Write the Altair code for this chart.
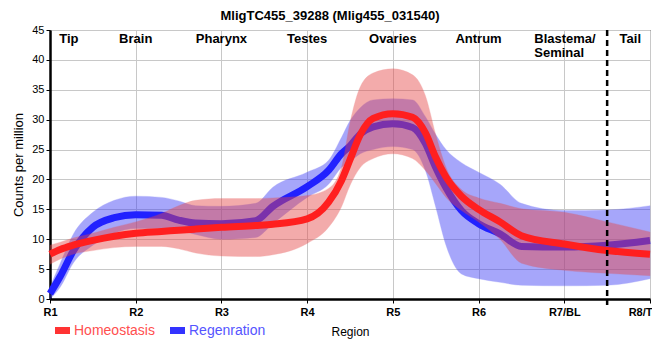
import altair as alt
import pandas as pd

# ---- data ----
xs = [1, 1.12, 1.27, 1.5, 1.75, 2, 2.3, 2.5, 2.7, 3, 3.4, 3.6, 4, 4.25, 4.4, 4.5,
      4.62, 4.77, 5, 5.23, 5.38, 5.5, 5.62, 5.8, 6, 6.25, 6.5, 7, 7.5, 8]

red_mean = [7.5, 8.3, 9.0, 9.8, 10.5, 11.0, 11.3, 11.5, 11.7, 12.0, 12.3, 12.5, 13.4, 16.2, 19.8, 23.3,
            27.5, 30.2, 31.0, 30.4, 27.8, 23.7, 20.4, 17.2, 15.0, 12.9, 10.6, 9.2, 8.1, 7.5]
red_lo = [5.8, 6.7, 7.5, 8.1, 8.6, 8.8, 8.8, 8.4, 7.7, 7.2, 7.1, 7.4, 9.3, 12.0, 15.4, 19.0,
          22.0, 23.5, 24.3, 23.5, 21.5, 19.3, 17.0, 14.8, 12.9, 10.0, 6.0, 4.8, 4.3, 3.9]
red_hi = [9.0, 9.5, 10.2, 11.0, 12.0, 12.9, 14.3, 15.6, 16.5, 16.8, 16.8, 16.9, 17.3, 18.5, 22.0, 29.5,
          35.5, 37.8, 38.5, 37.5, 34.0, 27.5, 22.0, 18.3, 16.9, 16.0, 15.1, 14.5, 12.9, 11.2]

blue_mean = [0.9, 3.8, 8.0, 12.0, 13.6, 14.1, 14.0, 13.2, 12.7, 12.6, 13.1, 15.5, 18.8, 21.5, 24.3, 25.6,
             27.6, 28.8, 29.3, 28.7, 26.0, 22.0, 18.6, 14.8, 12.6, 10.9, 8.8, 8.7, 9.0, 9.8]
blue_lo = [0.0, 2.0, 6.0, 9.0, 11.0, 11.8, 11.8, 11.5, 10.8, 10.0, 10.3, 12.6, 17.0, 19.2, 22.0, 23.0,
           24.3, 25.0, 25.5, 25.0, 21.5, 15.4, 9.0, 4.2, 3.4, 2.8, 2.3, 2.2, 2.3, 3.4]
blue_hi = [2.0, 6.0, 10.8, 14.5, 16.5, 17.2, 17.0, 16.4, 15.6, 15.5, 16.0, 18.7, 21.2, 23.2, 27.0, 29.8,
           32.0, 33.3, 33.5, 33.3, 30.5, 27.5, 25.0, 22.8, 21.2, 19.2, 16.0, 14.8, 14.9, 15.6]

tick_values = [1, 2, 3, 4, 5, 6, 7, 8]
tick_labels = ["R1", "R2", "R3", "R4", "R5", "R6", "R7/BL", "R8/T"]

region_names = ["Tip", "Brain", "Pharynx", "Testes", "Ovaries", "Antrum", "Tail"]
region_x = [1.22, 2, 3, 4, 5, 6, 7.77]
blastema_label = "Blastema/\nSeminal"
blastema_x = 6.65
tail_boundary = 7.5

title_text = "MligTC455_39288 (Mlig455_031540)"
series_names = ["Homeostasis", "Regenration"]

RED = "#ff1f1f"
BLUE = "#2121ff"
RED_BAND = "#e64646"
BLUE_BAND = "#3c3cf5"

red_df = pd.DataFrame({"x": xs, "mean": red_mean, "lo": red_lo, "hi": red_hi})
blue_df = pd.DataFrame({"x": xs, "mean": blue_mean, "lo": blue_lo, "hi": blue_hi})
regions_df = pd.DataFrame({"label": region_names, "x": region_x})
blast_df = pd.DataFrame({"label": [blastema_label], "x": [blastema_x]})
boundary_df = pd.DataFrame({"x": [tail_boundary]})
one = pd.DataFrame({"a": [0]})

label_expr = "[" + ",".join("'" + t + "'" for t in tick_labels) + "][datum.value - 1]"
last_tick = tick_values[-1]

xscale = alt.Scale(domain=[1, 8], nice=False, zero=False)
yscale = alt.Scale(domain=[0, 45], nice=False)

x_enc = alt.X(
    "x:Q", scale=xscale,
    axis=alt.Axis(values=tick_values, labelExpr=label_expr, title="Region",
                  labelFontWeight="bold", labelFontSize=11, labelColor="black",
                  labelAlign={"condition": {"test": f"datum.value == {last_tick}", "value": "right"},
                              "value": "center"},
                  labelOffset={"condition": {"test": f"datum.value == {last_tick}", "value": 2},
                               "value": 0},
                  titleFontSize=12, titleFontWeight="normal", titleColor="black",
                  titleY=36, titleX=300, titleBaseline="alphabetic",
                  domainWidth=2.5, domainColor="black", tickColor="black", tickSize=4,
                  labelPadding=3, labelFlush=False, gridColor="#c8c8c8"),
)
y_axis = alt.Axis(values=list(range(0, 46, 5)), title="Counts per million",
                  labelFontSize=11, labelColor="black", titleFontSize=13,
                  titleFontWeight="normal", titleColor="black", titlePadding=6,
                  domainWidth=2.5, domainColor="black", tickColor="black", tickSize=4,
                  gridColor="#c8c8c8")


def band(df, color):
    return alt.Chart(df).mark_area(
        interpolate="monotone", color=color, opacity=0.45,
        stroke=color, strokeWidth=1, strokeOpacity=0.35
    ).encode(x=x_enc, y=alt.Y("lo:Q", scale=yscale, axis=y_axis), y2="hi:Q")


def line(df, color):
    return alt.Chart(df).mark_line(
        interpolate="monotone", color=color, strokeWidth=7
    ).encode(x=x_enc, y=alt.Y("mean:Q", scale=yscale, axis=y_axis))


blue_band = band(blue_df, BLUE_BAND)
blue_line = line(blue_df, BLUE)
red_band = band(red_df, RED_BAND)
red_line = line(red_df, RED)

boundary = alt.Chart(boundary_df).mark_rule(
    color="black", strokeWidth=2.5, strokeDash=[6, 4]
).encode(x=alt.X("x:Q", scale=xscale), y=alt.value(0), y2=alt.value(275))

region_text = alt.Chart(regions_df).mark_text(
    fontSize=13, fontWeight="bold", color="black", baseline="alphabetic", align="center"
).encode(x=alt.X("x:Q", scale=xscale), y=alt.value(13), text="label:N")

blast_text = alt.Chart(blast_df).mark_text(
    fontSize=13, fontWeight="bold", color="black", baseline="alphabetic", align="left",
    lineBreak="\n", lineHeight=14
).encode(x=alt.X("x:Q", scale=xscale), y=alt.value(13), text="label:N")

title_mark = alt.Chart(one).mark_text(
    text=title_text, fontSize=13, fontWeight="bold", color="black",
    baseline="alphabetic", align="center"
).encode(x=alt.value(280), y=alt.value(-10))

leg_red_sw = alt.Chart(one).mark_rect(color="#ff3333").encode(
    x=alt.value(5), x2=alt.value(20), y=alt.value(297), y2=alt.value(304))
leg_red_tx = alt.Chart(one).mark_text(
    text=series_names[0], fontSize=14, color="#ff4f4f", align="left", baseline="alphabetic"
).encode(x=alt.value(24), y=alt.value(305))
leg_blue_sw = alt.Chart(one).mark_rect(color="#3333ff").encode(
    x=alt.value(120), x2=alt.value(135), y=alt.value(297), y2=alt.value(304))
leg_blue_tx = alt.Chart(one).mark_text(
    text=series_names[1], fontSize=14, color="#5555ff", align="left", baseline="alphabetic"
).encode(x=alt.value(139), y=alt.value(305))

chart = alt.layer(
    blue_band, blue_line, red_band, red_line, boundary, region_text, blast_text,
    title_mark, leg_red_sw, leg_red_tx, leg_blue_sw, leg_blue_tx
).properties(
    width=600, height=269,
    padding={"left": 42, "top": 22, "right": 2, "bottom": 45},
    autosize=alt.AutoSizeParams(type="none"),
).configure(
    font="Liberation Sans",
).configure_view(
    stroke="black", strokeWidth=1
)

chart.save("out.html", embed_options={"renderer": "svg", "actions": False})
